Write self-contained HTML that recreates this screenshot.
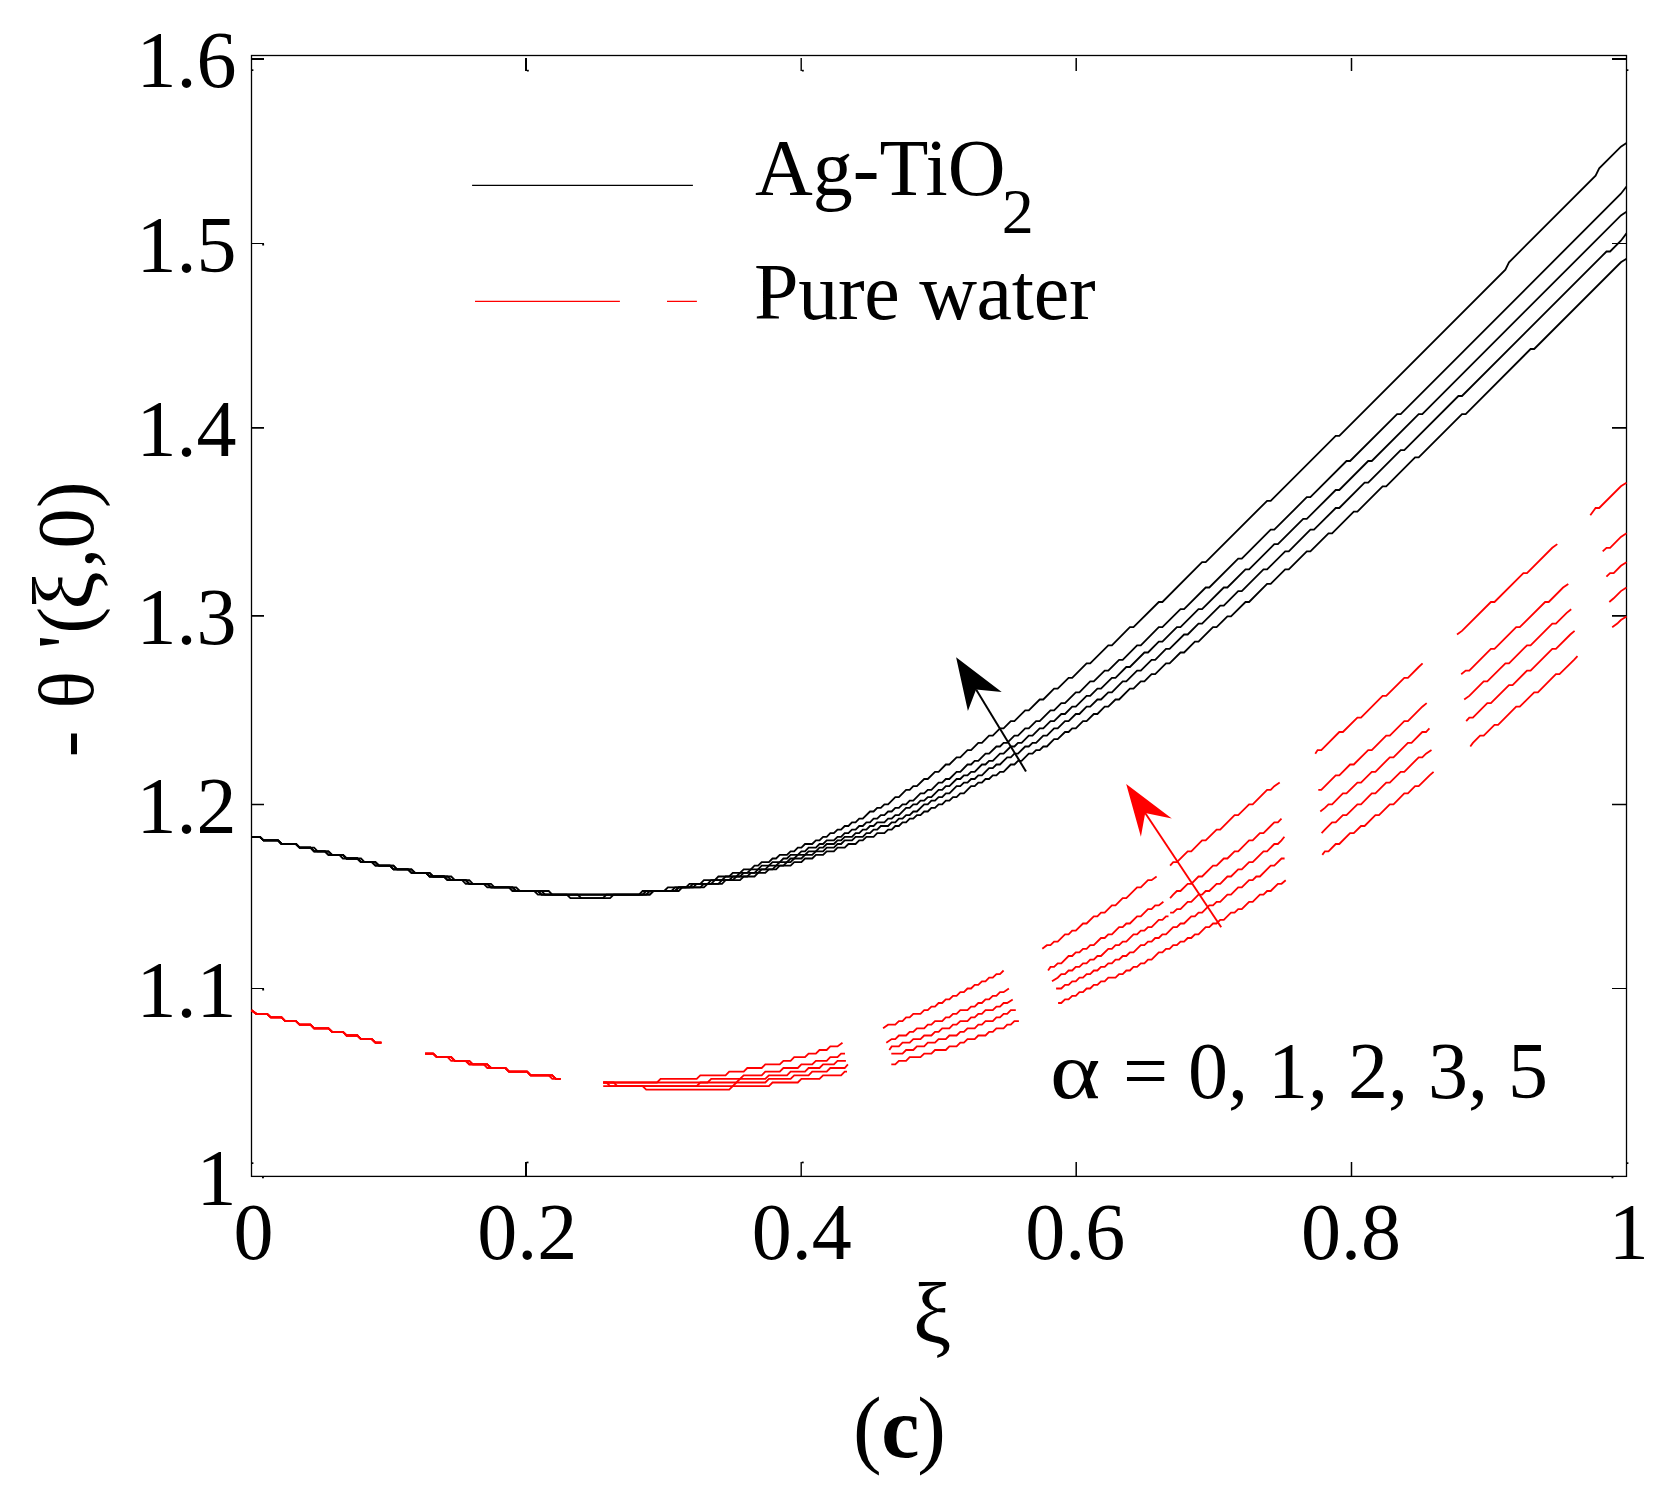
<!DOCTYPE html>
<html lang="en"><head><meta charset="utf-8"><title>Figure (c)</title>
<style>html,body{margin:0;padding:0;background:#fff}svg{display:block}</style></head>
<body>
<svg width="1678" height="1503" viewBox="0 0 1678 1503">
<rect width="1678" height="1503" fill="#fff"/>
<g stroke="#000" stroke-width="1.3" fill="none" stroke-linecap="butt">
<rect x="251.5" y="55.5" width="1375.0" height="1120.9"/>
</g>
<g stroke="#000" fill="none">
<path stroke-width="2.0" d="M251.5 58.9 H264 M1626.5 58.9 H1612"/>
<path stroke-width="1.2" d="M251.5 243.5 H264 M1626.5 243.5 H1612"/>
<path stroke-width="1.9" d="M251.5 427.9 H264 M1626.5 427.9 H1612"/>
<path stroke-width="1.9" d="M251.5 615.9 H264 M1626.5 615.9 H1612"/>
<path stroke-width="1.3" d="M251.5 804.5 H264 M1626.5 804.5 H1612"/>
<path stroke-width="1.2" d="M251.5 988.5 H264 M1626.5 988.5 H1612"/>
<path stroke-width="2.0" d="M526.0 1176.4 V1162 M526.0 58 V71"/>
<path stroke-width="1.4" d="M801.2 1176.4 V1162 M801.2 58 V71"/>
<path stroke-width="1.5" d="M1076.2 1176.4 V1162 M1076.2 58 V71"/>
<path stroke-width="1.5" d="M1351.5 1176.4 V1162 M1351.5 58 V71"/>
</g>
<g fill="#000">
<rect x="262.2" y="243.8" width="1.9" height="1.7"/>
<rect x="262.2" y="988.8" width="1.9" height="1.7"/>
<rect x="526.6" y="1161.6" width="1.9" height="1.7"/>
<rect x="801.8" y="1161.6" width="1.9" height="1.7"/>
<rect x="526.9" y="69.8" width="1.9" height="1.7"/>
<rect x="801.9" y="69.8" width="1.9" height="1.7"/>
<rect x="251.5" y="69.3" width="1.9" height="1.7"/>
<rect x="1626.5" y="69.3" width="1.9" height="1.7"/>
<rect x="251.5" y="1162.3" width="1.9" height="1.7"/>
<rect x="1626.5" y="1162.3" width="1.9" height="1.7"/>
<rect x="262.0" y="1176.6" width="1.9" height="1.7"/>
<rect x="1611.5" y="1176.6" width="1.9" height="1.7"/>
</g>
<g stroke="#000" stroke-width="1.8" fill="none" stroke-linejoin="miter">
<path d="M251.5 836.8 L259.9 836.8 L263.5 840.4 L278.0 840.4 L281.6 844.0 L296.0 844.0 L299.6 847.6 L314.1 847.6 L317.7 851.3 L328.5 851.3 L332.1 854.9 L342.9 854.9 L346.6 858.5 L361.0 858.5 L364.6 862.1 L375.4 862.1 L379.1 865.7 L393.5 865.7 L397.1 869.3 L411.5 869.3 L415.1 872.9 L429.6 872.9 L433.2 876.5 L451.2 876.5 L454.9 880.2 L469.3 880.2 L472.9 883.8 L491.0 883.8 L494.6 887.4 L516.2 887.4 L519.8 891.0 L548.7 891.0 L552.3 894.6 L639.0 894.6 L642.6 891.0 L664.2 891.0 L667.9 887.4 L685.9 887.4 L689.5 883.8 L700.3 883.8 L703.9 880.2 L714.8 880.2 L718.4 876.5 L729.2 876.5 L732.8 872.9 L740.0 872.9 L743.7 869.3 L750.9 869.3 L754.5 865.7 L758.1 865.7 L761.7 862.1 L768.9 862.1 L772.5 858.5 L776.1 858.5 L779.8 854.9 L787.0 854.9 L790.6 851.3 L794.2 851.3 L797.8 847.6 L801.4 847.6 L805.0 844.0 L812.2 844.0 L815.9 840.4 L819.5 840.4 L823.1 836.8 L826.7 836.8 L830.3 833.2 L833.9 833.2 L837.5 829.6 L841.1 829.6 L844.7 826.0 L848.4 826.0 L852.0 822.3 L855.6 822.3 L859.2 818.7 L862.8 818.7 L870.0 811.5 L873.6 811.5 L877.2 807.9 L880.8 807.9 L884.4 804.3 L888.1 804.3 L895.3 797.1 L898.9 797.1 L906.1 789.8 L909.7 789.8 L913.3 786.2 L916.9 786.2 L924.2 779.0 L927.8 779.0 L935.0 771.8 L938.6 771.8 L945.8 764.5 L949.4 764.5 L956.6 757.3 L960.3 757.3 L967.5 750.1 L971.1 750.1 L978.3 742.9 L981.9 742.9 L989.1 735.6 L992.8 735.6 L1000.0 728.4 L1003.6 728.4 L1010.8 721.2 L1014.4 721.2 L1025.2 710.3 L1028.8 710.3 L1039.7 699.5 L1043.3 699.5 L1054.1 688.7 L1057.7 688.7 L1068.6 677.8 L1072.2 677.8 L1086.6 663.4 L1090.2 663.4 L1108.3 645.3 L1111.9 645.3 L1129.9 627.2 L1133.5 627.2 L1158.8 602.0 L1162.4 602.0 L1202.1 562.2 L1205.7 562.2 L1267.1 500.8 L1270.7 500.8 L1335.7 435.8 L1339.3 435.8 L1505.4 269.6 L1509.0 262.3 L1595.6 175.6 L1599.2 168.4 L1620.9 146.7 L1626.5 143.1"/>
<path d="M251.5 836.8 L259.9 836.8 L263.5 840.4 L278.0 840.4 L281.6 844.0 L296.0 844.0 L299.6 847.6 L310.5 847.6 L314.1 851.3 L328.5 851.3 L332.1 854.9 L342.9 854.9 L346.6 858.5 L357.4 858.5 L361.0 862.1 L375.4 862.1 L379.1 865.7 L393.5 865.7 L397.1 869.3 L411.5 869.3 L415.1 872.9 L429.6 872.9 L433.2 876.5 L447.6 876.5 L451.2 880.2 L465.7 880.2 L469.3 883.8 L487.3 883.8 L491.0 887.4 L512.6 887.4 L516.2 891.0 L541.5 891.0 L545.1 894.6 L642.6 894.6 L646.2 891.0 L671.5 891.0 L675.1 887.4 L689.5 887.4 L693.1 883.8 L707.6 883.8 L711.2 880.2 L722.0 880.2 L725.6 876.5 L736.4 876.5 L740.0 872.9 L747.3 872.9 L750.9 869.3 L758.1 869.3 L761.7 865.7 L768.9 865.7 L772.5 862.1 L779.8 862.1 L783.4 858.5 L787.0 858.5 L790.6 854.9 L797.8 854.9 L801.4 851.3 L805.0 851.3 L808.6 847.6 L815.9 847.6 L819.5 844.0 L823.1 844.0 L826.7 840.4 L833.9 840.4 L837.5 836.8 L841.1 836.8 L844.7 833.2 L848.4 833.2 L852.0 829.6 L855.6 829.6 L859.2 826.0 L862.8 826.0 L866.4 822.3 L870.0 822.3 L873.6 818.7 L877.2 818.7 L880.8 815.1 L884.4 815.1 L888.1 811.5 L891.7 811.5 L895.3 807.9 L898.9 807.9 L902.5 804.3 L906.1 804.3 L909.7 800.7 L913.3 800.7 L920.5 793.4 L924.2 793.4 L927.8 789.8 L931.4 789.8 L938.6 782.6 L942.2 782.6 L945.8 779.0 L949.4 779.0 L956.6 771.8 L960.3 771.8 L967.5 764.5 L971.1 764.5 L974.7 760.9 L978.3 760.9 L985.5 753.7 L989.1 753.7 L996.4 746.5 L1000.0 746.5 L1003.6 742.9 L1007.2 742.9 L1014.4 735.6 L1018.0 735.6 L1025.2 728.4 L1028.8 728.4 L1036.1 721.2 L1039.7 721.2 L1050.5 710.3 L1054.1 710.3 L1061.3 703.1 L1065.0 703.1 L1075.8 692.3 L1079.4 692.3 L1090.2 681.4 L1093.8 681.4 L1104.7 670.6 L1108.3 670.6 L1119.1 659.8 L1122.7 659.8 L1137.1 645.3 L1140.8 645.3 L1158.8 627.2 L1162.4 627.2 L1180.5 609.2 L1184.1 609.2 L1205.7 587.5 L1209.3 587.5 L1238.2 558.6 L1241.8 558.6 L1270.7 529.7 L1274.3 529.7 L1306.8 497.2 L1310.4 497.2 L1346.5 461.0 L1350.1 461.0 L1397.1 414.1 L1400.7 414.1 L1620.9 193.7 L1626.5 186.5"/>
<path d="M251.5 836.8 L259.9 836.8 L263.5 840.4 L278.0 840.4 L281.6 844.0 L296.0 844.0 L299.6 847.6 L310.5 847.6 L314.1 851.3 L324.9 851.3 L328.5 854.9 L342.9 854.9 L346.6 858.5 L357.4 858.5 L361.0 862.1 L375.4 862.1 L379.1 865.7 L389.9 865.7 L393.5 869.3 L407.9 869.3 L411.5 872.9 L426.0 872.9 L429.6 876.5 L444.0 876.5 L447.6 880.2 L465.7 880.2 L469.3 883.8 L487.3 883.8 L491.0 887.4 L512.6 887.4 L516.2 891.0 L537.9 891.0 L541.5 894.6 L646.2 894.6 L649.8 891.0 L675.1 891.0 L678.7 887.4 L693.1 887.4 L696.7 883.8 L711.2 883.8 L714.8 880.2 L729.2 880.2 L732.8 876.5 L740.0 876.5 L743.7 872.9 L754.5 872.9 L758.1 869.3 L765.3 869.3 L768.9 865.7 L776.1 865.7 L779.8 862.1 L787.0 862.1 L790.6 858.5 L794.2 858.5 L797.8 854.9 L805.0 854.9 L808.6 851.3 L815.9 851.3 L819.5 847.6 L823.1 847.6 L826.7 844.0 L833.9 844.0 L837.5 840.4 L841.1 840.4 L844.7 836.8 L852.0 836.8 L855.6 833.2 L859.2 833.2 L862.8 829.6 L866.4 829.6 L870.0 826.0 L873.6 826.0 L877.2 822.3 L884.4 822.3 L888.1 818.7 L891.7 818.7 L895.3 815.1 L898.9 815.1 L906.1 807.9 L909.7 807.9 L913.3 804.3 L916.9 804.3 L920.5 800.7 L924.2 800.7 L927.8 797.1 L931.4 797.1 L938.6 789.8 L942.2 789.8 L945.8 786.2 L949.4 786.2 L956.6 779.0 L960.3 779.0 L963.9 775.4 L967.5 775.4 L971.1 771.8 L974.7 771.8 L981.9 764.5 L985.5 764.5 L989.1 760.9 L992.8 760.9 L1000.0 753.7 L1003.6 753.7 L1010.8 746.5 L1014.4 746.5 L1018.0 742.9 L1021.6 742.9 L1028.8 735.6 L1032.5 735.6 L1039.7 728.4 L1043.3 728.4 L1050.5 721.2 L1054.1 721.2 L1061.3 714.0 L1065.0 714.0 L1072.2 706.7 L1075.8 706.7 L1086.6 695.9 L1090.2 695.9 L1097.4 688.7 L1101.0 688.7 L1111.9 677.8 L1115.5 677.8 L1126.3 667.0 L1129.9 667.0 L1144.4 652.5 L1148.0 652.5 L1158.8 641.7 L1162.4 641.7 L1176.9 627.2 L1180.5 627.2 L1198.5 609.2 L1202.1 609.2 L1223.8 587.5 L1227.4 587.5 L1245.5 569.4 L1249.1 569.4 L1274.3 544.1 L1277.9 544.1 L1303.2 518.9 L1306.8 518.9 L1335.7 490.0 L1339.3 490.0 L1368.2 461.0 L1371.8 461.0 L1418.7 414.1 L1422.3 414.1 L1620.9 215.4 L1626.5 211.8"/>
<path d="M251.5 836.8 L259.9 836.8 L263.5 840.4 L278.0 840.4 L281.6 844.0 L296.0 844.0 L299.6 847.6 L310.5 847.6 L314.1 851.3 L324.9 851.3 L328.5 854.9 L342.9 854.9 L346.6 858.5 L357.4 858.5 L361.0 862.1 L371.8 862.1 L375.4 865.7 L389.9 865.7 L393.5 869.3 L407.9 869.3 L411.5 872.9 L426.0 872.9 L429.6 876.5 L444.0 876.5 L447.6 880.2 L465.7 880.2 L469.3 883.8 L487.3 883.8 L491.0 887.4 L509.0 887.4 L512.6 891.0 L537.9 891.0 L541.5 894.6 L577.6 894.6 L581.2 898.2 L602.9 898.2 L606.5 894.6 L649.8 894.6 L653.4 891.0 L675.1 891.0 L678.7 887.4 L700.3 887.4 L703.9 883.8 L718.4 883.8 L722.0 880.2 L732.8 880.2 L736.4 876.5 L747.3 876.5 L750.9 872.9 L758.1 872.9 L761.7 869.3 L772.5 869.3 L776.1 865.7 L783.4 865.7 L787.0 862.1 L790.6 862.1 L794.2 858.5 L801.4 858.5 L805.0 854.9 L812.2 854.9 L815.9 851.3 L823.1 851.3 L826.7 847.6 L833.9 847.6 L837.5 844.0 L841.1 844.0 L844.7 840.4 L852.0 840.4 L855.6 836.8 L862.8 836.8 L866.4 833.2 L870.0 833.2 L873.6 829.6 L877.2 829.6 L880.8 826.0 L888.1 826.0 L891.7 822.3 L895.3 822.3 L898.9 818.7 L902.5 818.7 L906.1 815.1 L909.7 815.1 L913.3 811.5 L916.9 811.5 L924.2 804.3 L927.8 804.3 L931.4 800.7 L935.0 800.7 L938.6 797.1 L942.2 797.1 L945.8 793.4 L949.4 793.4 L956.6 786.2 L960.3 786.2 L963.9 782.6 L967.5 782.6 L971.1 779.0 L974.7 779.0 L978.3 775.4 L981.9 775.4 L989.1 768.2 L992.8 768.2 L996.4 764.5 L1000.0 764.5 L1007.2 757.3 L1010.8 757.3 L1014.4 753.7 L1018.0 753.7 L1025.2 746.5 L1028.8 746.5 L1032.5 742.9 L1036.1 742.9 L1043.3 735.6 L1046.9 735.6 L1054.1 728.4 L1057.7 728.4 L1065.0 721.2 L1068.6 721.2 L1075.8 714.0 L1079.4 714.0 L1086.6 706.7 L1090.2 706.7 L1097.4 699.5 L1101.0 699.5 L1108.3 692.3 L1111.9 692.3 L1122.7 681.4 L1126.3 681.4 L1137.1 670.6 L1140.8 670.6 L1151.6 659.8 L1155.2 659.8 L1166.0 648.9 L1169.6 648.9 L1184.1 634.5 L1187.7 634.5 L1198.5 623.6 L1202.1 623.6 L1220.2 605.6 L1223.8 605.6 L1238.2 591.1 L1241.8 591.1 L1263.5 569.4 L1267.1 569.4 L1285.2 551.4 L1288.8 551.4 L1310.4 529.7 L1314.0 529.7 L1335.7 508.0 L1339.3 508.0 L1364.6 482.7 L1368.2 482.7 L1400.7 450.2 L1404.3 450.2 L1458.4 396.0 L1462.0 396.0 L1606.5 251.5 L1610.1 251.5 L1620.9 240.7 L1626.5 233.4"/>
<path d="M251.5 836.8 L259.9 836.8 L263.5 840.4 L278.0 840.4 L281.6 844.0 L296.0 844.0 L299.6 847.6 L310.5 847.6 L314.1 851.3 L324.9 851.3 L328.5 854.9 L339.3 854.9 L342.9 858.5 L357.4 858.5 L361.0 862.1 L371.8 862.1 L375.4 865.7 L389.9 865.7 L393.5 869.3 L407.9 869.3 L411.5 872.9 L426.0 872.9 L429.6 876.5 L444.0 876.5 L447.6 880.2 L462.1 880.2 L465.7 883.8 L483.7 883.8 L487.3 887.4 L509.0 887.4 L512.6 891.0 L534.3 891.0 L537.9 894.6 L566.8 894.6 L570.4 898.2 L610.1 898.2 L613.7 894.6 L649.8 894.6 L653.4 891.0 L678.7 891.0 L682.3 887.4 L703.9 887.4 L707.6 883.8 L722.0 883.8 L725.6 880.2 L740.0 880.2 L743.7 876.5 L754.5 876.5 L758.1 872.9 L765.3 872.9 L768.9 869.3 L776.1 869.3 L779.8 865.7 L790.6 865.7 L794.2 862.1 L801.4 862.1 L805.0 858.5 L812.2 858.5 L815.9 854.9 L823.1 854.9 L826.7 851.3 L833.9 851.3 L837.5 847.6 L844.7 847.6 L848.4 844.0 L855.6 844.0 L859.2 840.4 L862.8 840.4 L866.4 836.8 L873.6 836.8 L877.2 833.2 L884.4 833.2 L888.1 829.6 L891.7 829.6 L895.3 826.0 L898.9 826.0 L902.5 822.3 L906.1 822.3 L909.7 818.7 L913.3 818.7 L916.9 815.1 L920.5 815.1 L924.2 811.5 L927.8 811.5 L931.4 807.9 L935.0 807.9 L938.6 804.3 L942.2 804.3 L945.8 800.7 L949.4 800.7 L953.0 797.1 L956.6 797.1 L960.3 793.4 L963.9 793.4 L971.1 786.2 L974.7 786.2 L978.3 782.6 L981.9 782.6 L985.5 779.0 L989.1 779.0 L992.8 775.4 L996.4 775.4 L1000.0 771.8 L1003.6 771.8 L1010.8 764.5 L1014.4 764.5 L1018.0 760.9 L1021.6 760.9 L1028.8 753.7 L1032.5 753.7 L1036.1 750.1 L1039.7 750.1 L1043.3 746.5 L1046.9 746.5 L1054.1 739.2 L1057.7 739.2 L1065.0 732.0 L1068.6 732.0 L1072.2 728.4 L1075.8 728.4 L1083.0 721.2 L1086.6 721.2 L1093.8 714.0 L1097.4 714.0 L1104.7 706.7 L1108.3 706.7 L1115.5 699.5 L1119.1 699.5 L1129.9 688.7 L1133.5 688.7 L1140.8 681.4 L1144.4 681.4 L1151.6 674.2 L1155.2 674.2 L1166.0 663.4 L1169.6 663.4 L1180.5 652.5 L1184.1 652.5 L1194.9 641.7 L1198.5 641.7 L1213.0 627.2 L1216.6 627.2 L1227.4 616.4 L1231.0 616.4 L1245.5 602.0 L1249.1 602.0 L1267.1 583.9 L1270.7 583.9 L1285.2 569.4 L1288.8 569.4 L1306.8 551.4 L1310.4 551.4 L1328.5 533.3 L1332.1 533.3 L1353.8 511.6 L1357.4 511.6 L1382.6 486.3 L1386.2 486.3 L1415.1 457.4 L1418.7 457.4 L1462.0 414.1 L1465.7 414.1 L1530.6 349.0 L1534.2 349.0 L1620.9 262.3 L1626.5 258.7"/>
</g>
<g stroke="#f00" stroke-width="1.8" fill="none">
<path d="M251.5 1010.2 L256.3 1013.8 L267.1 1013.8 L270.8 1017.4 L281.6 1017.4 L285.2 1021.1 L296.0 1021.1 L299.6 1024.7 L310.5 1024.7 L314.1 1028.3 L328.5 1028.3 L332.1 1031.9 L342.9 1031.9 L346.6 1035.5 L357.4 1035.5 L361.0 1039.1 L371.8 1039.1 L375.4 1042.7 L381.4 1042.7 M425.1 1053.6 L433.2 1053.6 L436.8 1057.2 L447.6 1057.2 L451.2 1060.8 L465.7 1060.8 L469.3 1064.4 L483.7 1064.4 L487.3 1068.0 L505.4 1068.0 L509.0 1071.6 L527.1 1071.6 L530.7 1075.3 L552.3 1075.3 L555.9 1078.9 L560.5 1078.9 M603.2 1082.5 L657.0 1082.5 L660.6 1078.9 L696.7 1078.9 L700.3 1075.3 L725.6 1075.3 L729.2 1071.6 L743.7 1071.6 L747.3 1068.0 L761.7 1068.0 L765.3 1064.4 L779.8 1064.4 L783.4 1060.8 L790.6 1060.8 L794.2 1057.2 L805.0 1057.2 L808.6 1053.6 L815.9 1053.6 L819.5 1050.0 L826.7 1050.0 L830.3 1046.4 L837.5 1046.4 L842.5 1042.7 M883.1 1028.3 L888.1 1024.7 L895.3 1024.7 L898.9 1021.1 L902.5 1021.1 L906.1 1017.4 L909.7 1017.4 L913.3 1013.8 L920.5 1013.8 L924.2 1010.2 L927.8 1010.2 L931.4 1006.6 L935.0 1006.6 L938.6 1003.0 L942.2 1003.0 L945.8 999.4 L949.4 999.4 L953.0 995.8 L956.6 995.8 L960.3 992.2 L963.9 992.2 L967.5 988.5 L971.1 988.5 L974.7 984.9 L978.3 984.9 L981.9 981.3 L985.5 981.3 L989.1 977.7 L992.8 977.7 L996.4 974.1 L1000.0 974.1 L1003.6 970.5 M1042.3 948.8 L1046.9 945.2 L1050.5 945.2 L1054.1 941.6 L1057.7 941.6 L1065.0 934.4 L1068.6 934.4 L1072.2 930.7 L1075.8 930.7 L1083.0 923.5 L1086.6 923.5 L1093.8 916.3 L1097.4 916.3 L1101.0 912.7 L1104.7 912.7 L1111.9 905.4 L1115.5 905.4 L1122.7 898.2 L1126.3 898.2 L1137.1 887.4 L1140.8 887.4 L1148.0 880.2 L1151.6 880.2 L1156.6 876.5 M1170.1 865.7 L1173.2 862.1 L1176.9 862.1 L1187.7 851.3 L1191.3 851.3 L1202.1 840.4 L1205.7 840.4 L1216.6 829.6 L1220.2 829.6 L1234.6 815.1 L1238.2 815.1 L1249.1 804.3 L1252.7 804.3 L1267.1 789.8 L1270.7 789.8 L1274.3 786.2 L1279.7 782.6 M1315.3 753.7 L1317.6 750.1 L1321.3 750.1 L1339.3 732.0 L1342.9 732.0 L1357.4 717.6 L1361.0 717.6 L1382.6 695.9 L1386.2 695.9 L1404.3 677.8 L1407.9 677.8 L1418.7 667.0 L1422.6 663.4 M1457.0 634.5 L1462.0 630.9 L1490.9 602.0 L1494.5 602.0 L1523.4 573.1 L1527.0 573.1 L1552.3 547.8 L1557.3 544.1 M1590.3 515.2 L1595.6 508.0 L1599.2 508.0 L1620.9 486.3 L1626.5 482.7"/>
<path d="M251.5 1010.2 L256.3 1013.8 L267.1 1013.8 L270.8 1017.4 L281.6 1017.4 L285.2 1021.1 L296.0 1021.1 L299.6 1024.7 L310.5 1024.7 L314.1 1028.3 L328.5 1028.3 L332.1 1031.9 L342.9 1031.9 L346.6 1035.5 L357.4 1035.5 L361.0 1039.1 L371.8 1039.1 L375.4 1042.7 L381.4 1042.7 M425.1 1053.6 L433.2 1053.6 L436.8 1057.2 L451.2 1057.2 L454.9 1060.8 L465.7 1060.8 L469.3 1064.4 L487.3 1064.4 L491.0 1068.0 L505.4 1068.0 L509.0 1071.6 L527.1 1071.6 L530.7 1075.3 L552.3 1075.3 L555.9 1078.9 L560.5 1078.9 M603.2 1082.5 L707.6 1082.5 L711.2 1078.9 L740.0 1078.9 L743.7 1075.3 L761.7 1075.3 L765.3 1071.6 L779.8 1071.6 L783.4 1068.0 L797.8 1068.0 L801.4 1064.4 L812.2 1064.4 L815.9 1060.8 L826.7 1060.8 L830.3 1057.2 L837.5 1057.2 L841.1 1053.6 L845.0 1053.6 M886.3 1042.7 L891.7 1039.1 L895.3 1039.1 L898.9 1035.5 L906.1 1035.5 L909.7 1031.9 L913.3 1031.9 L916.9 1028.3 L924.2 1028.3 L927.8 1024.7 L931.4 1024.7 L935.0 1021.1 L942.2 1021.1 L945.8 1017.4 L949.4 1017.4 L953.0 1013.8 L956.6 1013.8 L960.3 1010.2 L967.5 1010.2 L971.1 1006.6 L974.7 1006.6 L978.3 1003.0 L981.9 1003.0 L985.5 999.4 L989.1 999.4 L992.8 995.8 L996.4 995.8 L1000.0 992.2 L1003.6 992.2 L1008.9 988.5 M1048.1 970.5 L1050.5 966.9 L1054.1 966.9 L1057.7 963.3 L1061.3 963.3 L1068.6 956.0 L1072.2 956.0 L1075.8 952.4 L1079.4 952.4 L1083.0 948.8 L1086.6 948.8 L1090.2 945.2 L1093.8 945.2 L1101.0 938.0 L1104.7 938.0 L1108.3 934.4 L1111.9 934.4 L1119.1 927.1 L1122.7 927.1 L1126.3 923.5 L1129.9 923.5 L1137.1 916.3 L1140.8 916.3 L1148.0 909.1 L1151.6 909.1 L1155.2 905.4 L1158.8 905.4 L1163.4 901.8 M1170.1 898.2 L1173.2 894.6 L1176.9 891.0 L1180.5 891.0 L1187.7 883.8 L1191.3 883.8 L1198.5 876.5 L1202.1 876.5 L1213.0 865.7 L1216.6 865.7 L1223.8 858.5 L1227.4 858.5 L1234.6 851.3 L1238.2 851.3 L1249.1 840.4 L1252.7 840.4 L1259.9 833.2 L1263.5 833.2 L1274.3 822.3 L1277.9 822.3 L1281.5 818.7 M1318.3 789.8 L1321.3 789.8 L1335.7 775.4 L1339.3 775.4 L1350.1 764.5 L1353.8 764.5 L1368.2 750.1 L1371.8 750.1 L1386.2 735.6 L1389.8 735.6 L1404.3 721.2 L1407.9 721.2 L1422.3 706.7 L1426.7 703.1 M1461.2 674.2 L1465.7 670.6 L1469.3 670.6 L1490.9 648.9 L1494.5 648.9 L1516.2 627.2 L1519.8 627.2 L1545.1 602.0 L1548.7 602.0 L1563.1 587.5 L1568.3 583.9 M1602.7 551.4 L1606.5 547.8 L1610.1 547.8 L1620.9 536.9 L1626.5 533.3"/>
<path d="M251.5 1010.2 L256.3 1013.8 L267.1 1013.8 L270.8 1017.4 L281.6 1017.4 L285.2 1021.1 L296.0 1021.1 L299.6 1024.7 L310.5 1024.7 L314.1 1028.3 L328.5 1028.3 L332.1 1031.9 L342.9 1031.9 L346.6 1035.5 L357.4 1035.5 L361.0 1039.1 L371.8 1039.1 L375.4 1042.7 L381.4 1042.7 M425.1 1053.6 L433.2 1053.6 L436.8 1057.2 L451.2 1057.2 L454.9 1060.8 L465.7 1060.8 L469.3 1064.4 L487.3 1064.4 L491.0 1068.0 L505.4 1068.0 L509.0 1071.6 L527.1 1071.6 L530.7 1075.3 L552.3 1075.3 L555.9 1078.9 L560.5 1078.9 M603.2 1082.5 L613.7 1082.5 L617.3 1086.1 L696.7 1086.1 L700.3 1082.5 L736.4 1082.5 L740.0 1078.9 L765.3 1078.9 L768.9 1075.3 L787.0 1075.3 L790.6 1071.6 L805.0 1071.6 L808.6 1068.0 L819.5 1068.0 L823.1 1064.4 L833.9 1064.4 L837.5 1060.8 L845.9 1060.8 M889.3 1050.0 L891.7 1046.4 L898.9 1046.4 L902.5 1042.7 L909.7 1042.7 L913.3 1039.1 L920.5 1039.1 L924.2 1035.5 L931.4 1035.5 L935.0 1031.9 L938.6 1031.9 L942.2 1028.3 L949.4 1028.3 L953.0 1024.7 L956.6 1024.7 L960.3 1021.1 L967.5 1021.1 L971.1 1017.4 L974.7 1017.4 L978.3 1013.8 L981.9 1013.8 L985.5 1010.2 L992.8 1010.2 L996.4 1006.6 L1000.0 1006.6 L1003.6 1003.0 L1007.2 1003.0 L1012.7 999.4 M1052.0 981.3 L1057.7 977.7 L1061.3 974.1 L1065.0 974.1 L1068.6 970.5 L1072.2 970.5 L1075.8 966.9 L1079.4 966.9 L1083.0 963.3 L1086.6 963.3 L1090.2 959.6 L1093.8 959.6 L1097.4 956.0 L1101.0 956.0 L1108.3 948.8 L1111.9 948.8 L1115.5 945.2 L1119.1 945.2 L1122.7 941.6 L1126.3 941.6 L1133.5 934.4 L1137.1 934.4 L1140.8 930.7 L1144.4 930.7 L1148.0 927.1 L1151.6 927.1 L1158.8 919.9 L1162.4 919.9 L1166.0 916.3 L1168.5 916.3 M1170.1 912.7 L1173.2 912.7 L1176.9 909.1 L1180.5 909.1 L1187.7 901.8 L1191.3 901.8 L1198.5 894.6 L1202.1 894.6 L1205.7 891.0 L1209.3 891.0 L1216.6 883.8 L1220.2 883.8 L1227.4 876.5 L1231.0 876.5 L1238.2 869.3 L1241.8 869.3 L1249.1 862.1 L1252.7 862.1 L1263.5 851.3 L1267.1 851.3 L1274.3 844.0 L1277.9 844.0 L1281.5 840.4 L1284.4 836.8 M1320.3 811.5 L1324.9 807.9 L1328.5 804.3 L1332.1 804.3 L1342.9 793.4 L1346.5 793.4 L1357.4 782.6 L1361.0 782.6 L1371.8 771.8 L1375.4 771.8 L1389.8 757.3 L1393.5 757.3 L1407.9 742.9 L1411.5 742.9 L1422.3 732.0 L1426.0 732.0 L1429.4 728.4 M1464.2 699.5 L1469.3 695.9 L1483.7 681.4 L1487.3 681.4 L1505.4 663.4 L1509.0 663.4 L1527.0 645.3 L1530.6 645.3 L1552.3 623.6 L1555.9 623.6 L1566.7 612.8 L1571.2 609.2 M1606.4 576.7 L1610.1 573.1 L1613.7 573.1 L1620.9 565.8 L1626.5 562.2"/>
<path d="M251.5 1010.2 L256.3 1013.8 L267.1 1013.8 L270.8 1017.4 L281.6 1017.4 L285.2 1021.1 L296.0 1021.1 L299.6 1024.7 L310.5 1024.7 L314.1 1028.3 L328.5 1028.3 L332.1 1031.9 L342.9 1031.9 L346.6 1035.5 L357.4 1035.5 L361.0 1039.1 L371.8 1039.1 L375.4 1042.7 L381.4 1042.7 M425.1 1053.6 L433.2 1053.6 L436.8 1057.2 L451.2 1057.2 L454.9 1060.8 L469.3 1060.8 L472.9 1064.4 L487.3 1064.4 L491.0 1068.0 L505.4 1068.0 L509.0 1071.6 L527.1 1071.6 L530.7 1075.3 L552.3 1075.3 L555.9 1078.9 L560.5 1078.9 M603.2 1082.5 L606.5 1082.5 L610.1 1086.1 L732.8 1086.1 L736.4 1082.5 L765.3 1082.5 L768.9 1078.9 L790.6 1078.9 L794.2 1075.3 L808.6 1075.3 L812.2 1071.6 L826.7 1071.6 L830.3 1068.0 L844.7 1068.0 L847.9 1064.4 M891.3 1053.6 L902.5 1053.6 L906.1 1050.0 L913.3 1050.0 L916.9 1046.4 L924.2 1046.4 L927.8 1042.7 L935.0 1042.7 L938.6 1039.1 L945.8 1039.1 L949.4 1035.5 L956.6 1035.5 L960.3 1031.9 L963.9 1031.9 L967.5 1028.3 L974.7 1028.3 L978.3 1024.7 L981.9 1024.7 L985.5 1021.1 L992.8 1021.1 L996.4 1017.4 L1000.0 1017.4 L1003.6 1013.8 L1007.2 1013.8 L1010.8 1010.2 L1015.8 1010.2 M1056.1 988.5 L1061.3 988.5 L1065.0 984.9 L1068.6 984.9 L1072.2 981.3 L1075.8 981.3 L1079.4 977.7 L1083.0 977.7 L1086.6 974.1 L1090.2 974.1 L1093.8 970.5 L1097.4 970.5 L1101.0 966.9 L1104.7 966.9 L1108.3 963.3 L1111.9 963.3 L1115.5 959.6 L1119.1 959.6 L1122.7 956.0 L1126.3 956.0 L1129.9 952.4 L1133.5 952.4 L1140.8 945.2 L1144.4 945.2 L1148.0 941.6 L1151.6 941.6 L1155.2 938.0 L1158.8 938.0 L1162.4 934.4 L1166.0 934.4 L1173.2 927.1 L1176.9 927.1 L1180.5 923.5 L1184.1 923.5 L1191.3 916.3 L1194.9 916.3 L1198.5 912.7 L1202.1 912.7 L1209.3 905.4 L1213.0 905.4 L1216.6 901.8 L1220.2 901.8 L1227.4 894.6 L1231.0 894.6 L1238.2 887.4 L1241.8 887.4 L1249.1 880.2 L1252.7 880.2 L1256.3 876.5 L1259.9 876.5 L1270.7 865.7 L1274.3 865.7 L1281.5 858.5 L1284.6 858.5 M1321.6 833.2 L1324.9 829.6 L1332.1 822.3 L1335.7 822.3 L1342.9 815.1 L1346.5 815.1 L1357.4 804.3 L1361.0 804.3 L1371.8 793.4 L1375.4 793.4 L1386.2 782.6 L1389.8 782.6 L1400.7 771.8 L1404.3 771.8 L1418.7 757.3 L1422.3 757.3 L1426.0 753.7 L1431.5 750.1 M1466.2 721.2 L1469.3 717.6 L1472.9 717.6 L1487.3 703.1 L1490.9 703.1 L1509.0 685.1 L1512.6 685.1 L1527.0 670.6 L1530.6 670.6 L1552.3 648.9 L1555.9 648.9 L1570.3 634.5 L1574.6 630.9 M1609.3 602.0 L1613.7 598.3 L1620.9 591.1 L1626.5 587.5"/>
<path d="M251.5 1010.2 L256.3 1013.8 L267.1 1013.8 L270.8 1017.4 L281.6 1017.4 L285.2 1021.1 L296.0 1021.1 L299.6 1024.7 L310.5 1024.7 L314.1 1028.3 L328.5 1028.3 L332.1 1031.9 L342.9 1031.9 L346.6 1035.5 L357.4 1035.5 L361.0 1039.1 L371.8 1039.1 L375.4 1042.7 L381.4 1042.7 M425.1 1053.6 L433.2 1053.6 L436.8 1057.2 L451.2 1057.2 L454.9 1060.8 L469.3 1060.8 L472.9 1064.4 L487.3 1064.4 L491.0 1068.0 L505.4 1068.0 L509.0 1071.6 L527.1 1071.6 L530.7 1075.3 L548.7 1075.3 L552.3 1078.9 L560.5 1078.9 M603.2 1086.1 L642.6 1086.1 L646.2 1089.7 L729.2 1089.7 L732.8 1086.1 L768.9 1086.1 L772.5 1082.5 L797.8 1082.5 L801.4 1078.9 L819.5 1078.9 L823.1 1075.3 L841.1 1075.3 L844.7 1071.6 L847.0 1071.6 M891.3 1064.4 L895.3 1064.4 L898.9 1060.8 L906.1 1060.8 L909.7 1057.2 L920.5 1057.2 L924.2 1053.6 L931.4 1053.6 L935.0 1050.0 L945.8 1050.0 L949.4 1046.4 L956.6 1046.4 L960.3 1042.7 L963.9 1042.7 L967.5 1039.1 L974.7 1039.1 L978.3 1035.5 L985.5 1035.5 L989.1 1031.9 L992.8 1031.9 L996.4 1028.3 L1003.6 1028.3 L1007.2 1024.7 L1010.8 1024.7 L1014.4 1021.1 L1018.9 1021.1 M1058.1 1003.0 L1061.3 1003.0 L1065.0 999.4 L1068.6 999.4 L1072.2 995.8 L1075.8 995.8 L1079.4 992.2 L1083.0 992.2 L1086.6 988.5 L1090.2 988.5 L1093.8 984.9 L1097.4 984.9 L1101.0 981.3 L1104.7 981.3 L1108.3 977.7 L1115.5 977.7 L1119.1 974.1 L1122.7 974.1 L1126.3 970.5 L1129.9 970.5 L1133.5 966.9 L1137.1 966.9 L1140.8 963.3 L1144.4 963.3 L1148.0 959.6 L1151.6 959.6 L1158.8 952.4 L1162.4 952.4 L1166.0 948.8 L1169.6 948.8 L1173.2 945.2 L1176.9 945.2 L1180.5 941.6 L1184.1 941.6 L1187.7 938.0 L1191.3 938.0 L1194.9 934.4 L1198.5 934.4 L1205.7 927.1 L1209.3 927.1 L1213.0 923.5 L1216.6 923.5 L1220.2 919.9 L1223.8 919.9 L1231.0 912.7 L1234.6 912.7 L1238.2 909.1 L1241.8 909.1 L1249.1 901.8 L1252.7 901.8 L1259.9 894.6 L1263.5 894.6 L1267.1 891.0 L1270.7 891.0 L1277.9 883.8 L1281.5 883.8 L1285.7 880.2 M1322.3 854.9 L1324.9 851.3 L1328.5 851.3 L1335.7 844.0 L1339.3 844.0 L1350.1 833.2 L1353.8 833.2 L1361.0 826.0 L1364.6 826.0 L1375.4 815.1 L1379.0 815.1 L1389.8 804.3 L1393.5 804.3 L1404.3 793.4 L1407.9 793.4 L1415.1 786.2 L1418.7 786.2 L1429.6 775.4 L1433.6 771.8 M1470.3 746.5 L1472.9 742.9 L1480.1 735.6 L1483.7 735.6 L1494.5 724.8 L1498.1 724.8 L1516.2 706.7 L1519.8 706.7 L1534.2 692.3 L1537.9 692.3 L1555.9 674.2 L1559.5 674.2 L1574.0 659.8 L1577.5 656.1 M1612.2 627.2 L1617.3 623.6 L1620.9 620.0 L1626.5 616.4"/>
</g>
<path d="M976.1 689.4 L1026 771.5" stroke="#000" stroke-width="2"/>
<path d="M956.1 657.2 L1001.7 692.1 L976.1 689.4 L967.9 710.9 Z" fill="#000"/>
<path d="M1145.2 813 L1221.2 927.2" stroke="#f00" stroke-width="1.9"/>
<path d="M1126.2 784.1 L1171.8 818.6 L1145.2 813 L1140.9 836.7 Z" fill="#f00"/>
<path d="M472.1 185.3 H692.9" stroke="#000" stroke-width="1.2"/>
<path d="M475 301.4 H619.9 M667 301.4 H696.9" stroke="#f00" stroke-width="1.2"/>
<g font-family="'Liberation Serif', 'Times New Roman', serif" font-size="80" fill="#000">
<text x="236.5" y="87.4" text-anchor="end">1.6</text>
<text x="236.5" y="272.0" text-anchor="end">1.5</text>
<text x="236.5" y="456.4" text-anchor="end">1.4</text>
<text x="236.5" y="644.4" text-anchor="end">1.3</text>
<text x="236.5" y="833.0" text-anchor="end">1.2</text>
<text x="236.5" y="1017.0" text-anchor="end">1.1</text>
<text x="236.5" y="1204.9" text-anchor="end">1</text>
<text x="253.6" y="1258.5" text-anchor="middle">0</text>
<text x="527.2" y="1258.5" text-anchor="middle">0.2</text>
<text x="801.8" y="1258.5" text-anchor="middle">0.4</text>
<text x="1075.3" y="1258.5" text-anchor="middle">0.6</text>
<text x="1350.9" y="1258.5" text-anchor="middle">0.8</text>
<text x="1628.7" y="1258.5" text-anchor="middle">1</text>
<text x="755" y="195">Ag-TiO<tspan x="1001.8" y="232.6" font-size="64">2</tspan></text>
<text x="754" y="319" letter-spacing="-0.3">Pure water</text>
<text x="1050" y="1098.4"><tspan textLength="50.3" lengthAdjust="spacingAndGlyphs">α</tspan> <tspan x="1123">= 0, 1, 2, 3, 5</tspan></text>
<text x="913" y="1342.5" font-size="86">ξ</text>
<text transform="translate(92.6 757) rotate(-90)" x="-0.35 24.00 48.45 88.00 108.00 123.40 147.15 189.00 208.60 249.10" y="0">- <tspan font-size="78">θ</tspan> '(<tspan font-size="86">ξ</tspan>,0)</text>
</g>
<text font-family="'Liberation Serif', 'Times New Roman', serif" font-size="86" fill="#000" x="853.1 881.3 917.25" y="1457.3">(<tspan font-weight="bold">c</tspan>)</text>
</svg>
</body></html>
